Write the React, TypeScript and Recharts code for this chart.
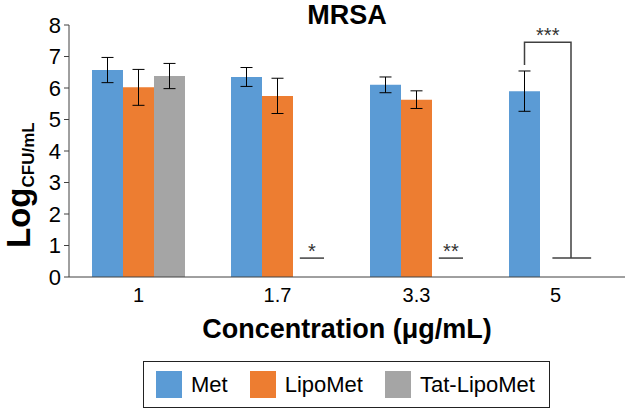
import { Bar, BarChart, ErrorBar, Legend, XAxis, YAxis } from 'recharts';

const categories = ['1', '1.7', '3.3', '5'];
const metValues = [6.57, 6.35, 6.1, 5.9];
const metErrors = [0.4, 0.3, 0.25, 0.64];
const lipoValues = [6.02, 5.75, 5.63, null];
const lipoErrors = [0.57, 0.56, 0.28, null];
const tatValues = [6.38, 0, 0, 0];
const tatErrors = [0.4, null, null, null];
// detection limit marks for samples with no growth
const limitValues = [null, 0.6, 0.6, 0.6];
const significance = ['', '*', '**', '***'];
const bracketTop = 7.45;
const bracketStart = 6.73;
const yTicks = [0, 1, 2, 3, 4, 5, 6, 7, 8];
const legendOrder = ['Met', 'LipoMet', 'Tat-LipoMet'];

const colors = { met: '#5B9BD5', lipo: '#ED7D31', tat: '#A5A5A5' };
const font = '"Liberation Sans", Arial, sans-serif';

const data = categories.map((c, i) => ({
  conc: c,
  met: metValues[i],
  metErr: metErrors[i],
  lipo: lipoValues[i],
  lipoErr: lipoErrors[i],
  tat: tatValues[i],
  tatErr: tatErrors[i],
  limit: limitValues[i],
  sig: significance[i],
}));

function LimitMark(props: any) {
  const { x, y, width, height, index, payload } = props;
  if (payload.limit == null) return null;
  const perUnit = height / payload.limit;
  const y0 = y + height;
  const stroke = '#404040';
  if (index === 3) {
    const left = x - 1.5 * width;
    const top = y0 - bracketTop * perUnit;
    const start = y0 - bracketStart * perUnit;
    return (
      <g>
        <line x1={x - 0.6 * width} x2={x + 0.65 * width} y1={y} y2={y} stroke={stroke} strokeWidth={1.5} />
        <polyline points={`${left},${start} ${left},${top} ${x},${top} ${x},${y}`} fill="none" stroke={stroke} strokeWidth={1.5} />
        <text x={(left + x) / 2} y={top} textAnchor="middle" fontSize={20} fill="#333" fontFamily={font}>{payload.sig}</text>
      </g>
    );
  }
  const x1 = x + 0.22 * width;
  const x2 = x + width;
  return (
    <g>
      <line x1={x1} x2={x2} y1={y} y2={y} stroke={stroke} strokeWidth={1.5} />
      <text x={(x1 + x2) / 2} y={y} textAnchor="middle" fontSize={20} fill="#333" fontFamily={font}>{payload.sig}</text>
    </g>
  );
}

function LegendBox({ payload }: any) {
  const items = (payload ?? [])
    .filter((p: any) => p.type !== 'none')
    .sort((a: any, b: any) => legendOrder.indexOf(a.value) - legendOrder.indexOf(b.value));
  return (
    <div style={{
      boxSizing: 'border-box', width: 407, height: 47, border: '1.5px solid #222', whiteSpace: 'nowrap',
      display: 'flex', alignItems: 'center', paddingLeft: 12, fontFamily: font, fontSize: 22, color: '#000',
    }}>
      {items.map((p: any) => (
        <div key={p.value} style={{ display: 'flex', alignItems: 'center', marginRight: 22 }}>
          <span style={{ width: 26, height: 27, background: p.color, marginRight: 9, display: 'inline-block' }} />
          <span>{p.value}</span>
        </div>
      ))}
    </div>
  );
}

function YLabel() {
  return (
    <text transform="translate(30, 248) rotate(-90)" fontFamily={font} fontWeight="bold" fill="#000">
      <tspan fontSize={33}>Log</tspan>
      <tspan fontSize={17} dy={4}>CFU/mL</tspan>
    </text>
  );
}

export default function App() {
  return (
    <div style={{ position: 'absolute', left: 0, top: 0, width: 627, height: 409, background: '#fff' }}>
      <BarChart width={627} height={409} data={data} margin={{ top: 25, right: 2, left: 0, bottom: 0 }}
        barCategoryGap={23} barGap={0} style={{ fontFamily: font }}>
        <text x={347} y={24} textAnchor="middle" fontSize={27} fontWeight="bold" fill="#000" fontFamily={font}>MRSA</text>
        <XAxis dataKey="conc" height={132} tickLine={false} tickSize={0} tickMargin={11}
          axisLine={{ stroke: '#404040' }} tick={{ fontSize: 20, fill: '#000' }} />
        <YAxis width={69} domain={[0, 8]} ticks={yTicks} interval={0} tickSize={5} tickMargin={3}
          axisLine={{ stroke: '#404040' }} tickLine={{ stroke: '#404040' }} tick={{ fontSize: 22, fill: '#000' }}
          label={<YLabel />} />
        <Bar dataKey="met" name="Met" stackId="m" fill={colors.met} isAnimationActive={false}>
          <ErrorBar dataKey="metErr" width={6} stroke="#000" strokeWidth={1} />
        </Bar>
        <Bar dataKey="lipo" name="LipoMet" stackId="l" fill={colors.lipo} isAnimationActive={false}>
          <ErrorBar dataKey="lipoErr" width={6} stroke="#000" strokeWidth={1} />
        </Bar>
        <Bar dataKey="tat" name="Tat-LipoMet" stackId="t" fill={colors.tat} isAnimationActive={false}>
          <ErrorBar dataKey="tatErr" width={6} stroke="#000" strokeWidth={1} />
        </Bar>
        <Bar dataKey="limit" stackId="t" legendType="none" shape={<LimitMark />} isAnimationActive={false} />
        <text x={347} y={338} textAnchor="middle" fontSize={27} fontWeight="bold" fill="#000" fontFamily={font}>Concentration (μg/mL)</text>
        <Legend layout="horizontal" verticalAlign="middle" align="center" content={<LegendBox />}
          wrapperStyle={{ left: 143, top: 361, width: 407, height: 47 }} />
      </BarChart>
    </div>
  );
}
